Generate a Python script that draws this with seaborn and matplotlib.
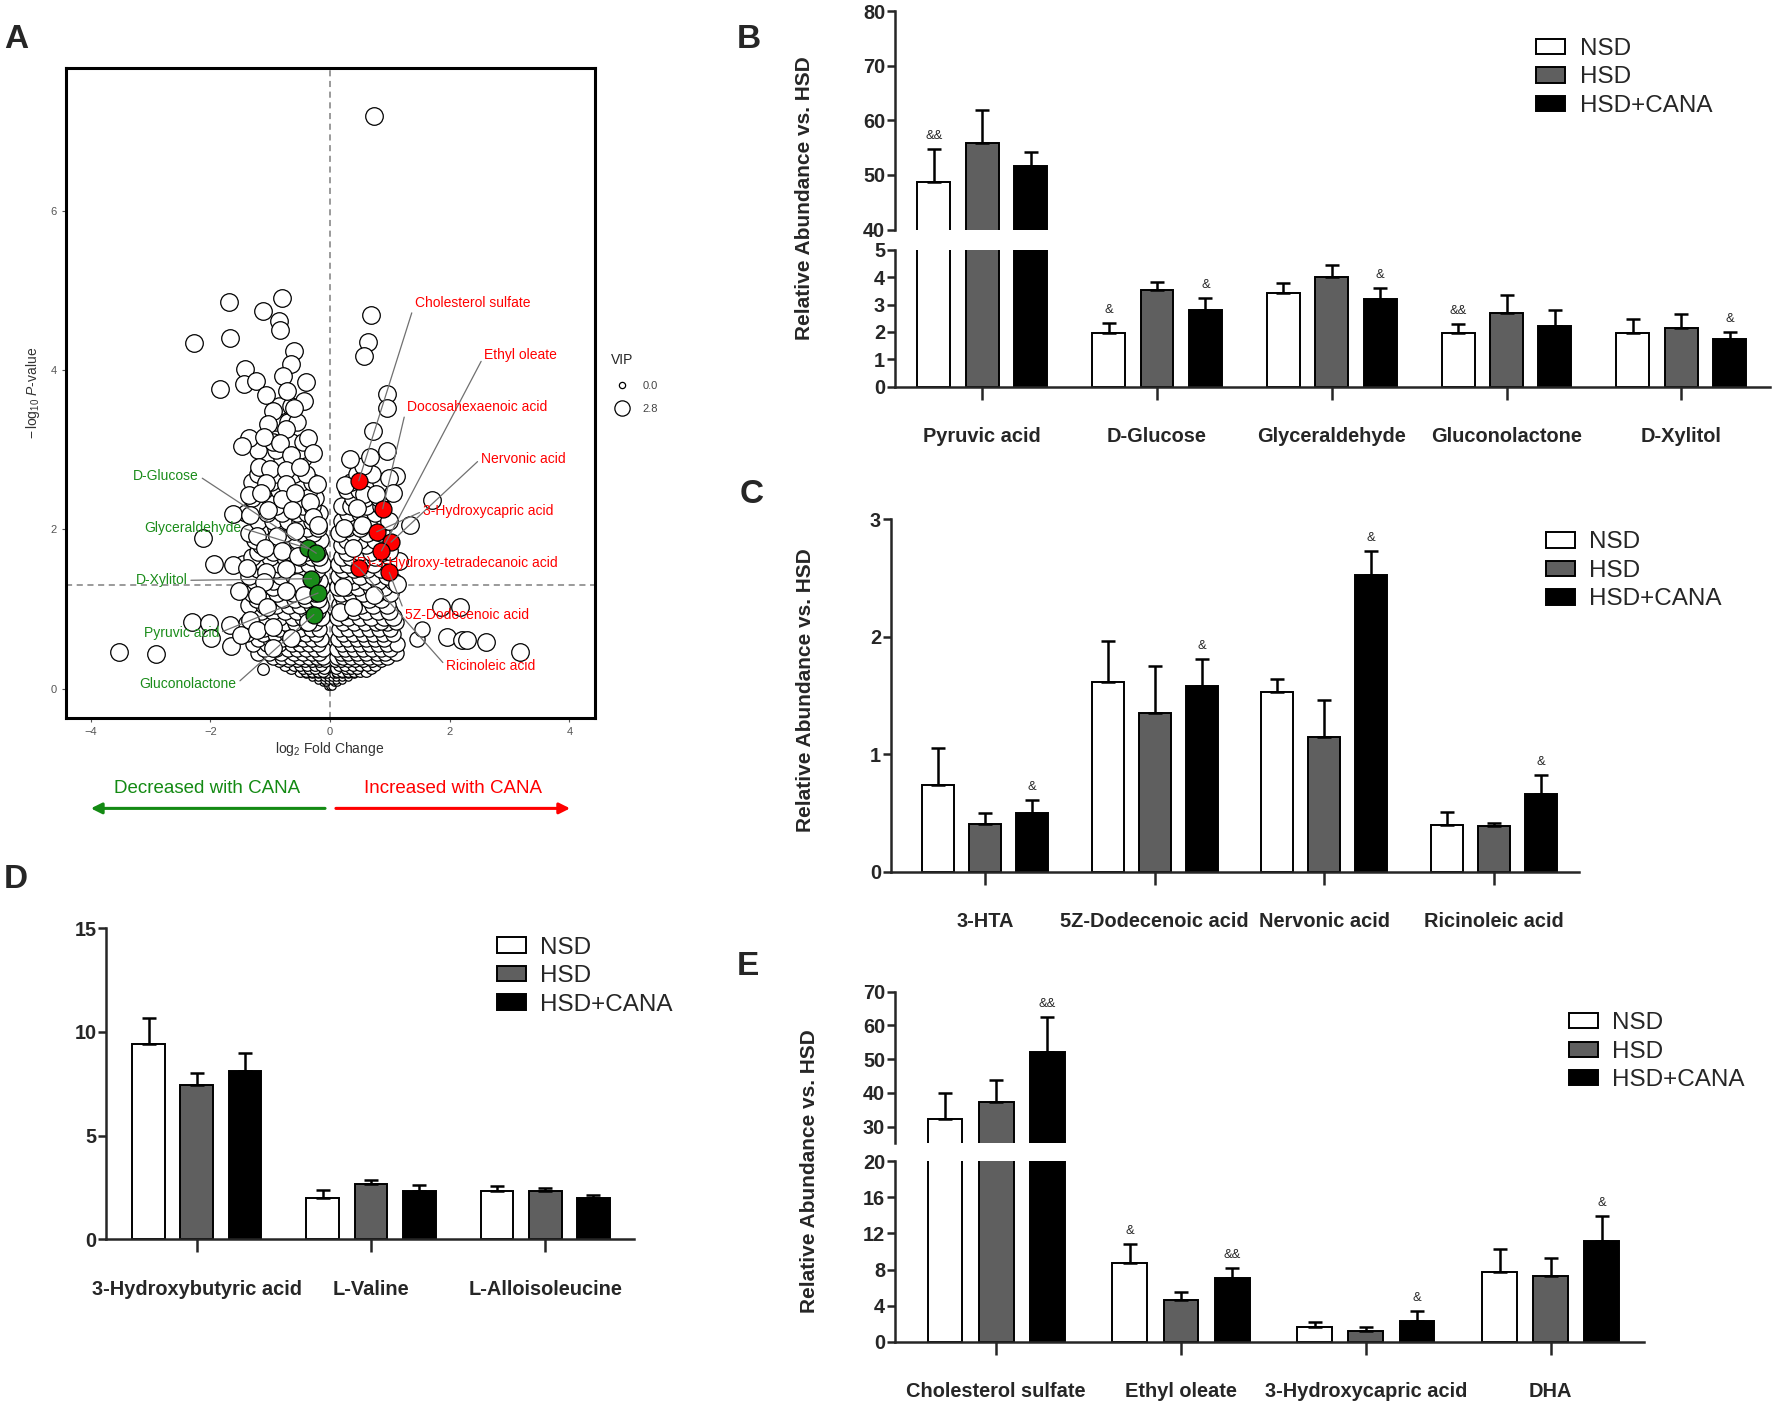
import numpy as np
import pandas as pd
import matplotlib
matplotlib.use("Agg")
import matplotlib.pyplot as plt
import seaborn as sns
from matplotlib import font_manager
from matplotlib.patches import Patch
from matplotlib.lines import Line2D

# ── Groups / colours ──────────────────────────────────────────────────────────
GROUPS  = ["NSD", "HSD", "HSD+CANA"]
PALETTE = {"NSD": "white", "HSD": "#5f5f5f", "HSD+CANA": "black"}
RED     = "#ff0000"
GREEN   = "#1a8c1a"

# ── Panel A: volcano points (log2 FC, -log10 P) ──────────────────────────────
VOLC_BIG = [
    (-1.69, 4.86), (-0.81, 4.91), (-1.12, 4.75), (-0.85, 4.62), (-0.84, 4.51),
    (-2.27, 4.34), (-1.68, 4.40), (-0.60, 4.24), (-0.66, 4.08), (-1.42, 4.02),
    (-0.79, 3.93), (-0.40, 3.85), (-1.84, 3.77), (-1.44, 3.83), (-1.24, 3.87),
    (-1.07, 3.69), (-0.72, 3.74), (-0.44, 3.61), (-0.60, 3.52), (-0.95, 3.49),
    (-1.04, 3.33), (-0.74, 3.26), (-0.37, 3.15), (-1.35, 3.15), (-1.11, 3.16),
    (-1.47, 3.05), (-0.83, 3.08), (-0.66, 2.94), (-0.29, 2.96), (-1.18, 2.78),
    (-1.00, 2.76), (-0.74, 2.75), (-0.50, 2.78), (-1.07, 2.58), (-0.74, 2.57),
    (-0.22, 2.57), (-1.36, 2.43), (-1.15, 2.46), (-0.81, 2.38), (-0.59, 2.46),
    (-0.33, 2.34), (-1.62, 2.19), (-1.33, 2.18), (-1.04, 2.24), (-0.63, 2.24),
    (-0.29, 2.16), (-0.20, 2.05), (-2.13, 1.89), (-1.22, 1.92), (-0.89, 1.92),
    (-0.59, 1.98), (-1.94, 1.57), (-1.63, 1.55), (-1.39, 1.52), (-1.09, 1.76),
    (-0.80, 1.73), (-0.53, 1.66), (-1.07, 1.47), (-0.74, 1.50), (-0.55, 1.34),
    (-1.11, 1.34), (-1.52, 1.22), (-1.22, 1.18), (-0.74, 1.22), (-0.44, 1.18),
    (-2.30, 0.84), (-2.03, 0.82), (-1.99, 0.64), (-1.67, 0.80), (-1.65, 0.54),
    (-1.48, 0.67), (-1.33, 0.86), (-1.05, 1.02), (-1.22, 0.73), (-0.95, 0.77),
    (-3.52, 0.46), (-2.91, 0.44), (-0.96, 0.51), (-0.66, 0.64), (-0.36, 0.83),
    (0.74, 7.20), (0.68, 4.69), (0.64, 4.36), (0.57, 4.18), (0.95, 3.70),
    (0.96, 3.52), (0.72, 3.24), (0.95, 2.99), (0.33, 2.88), (0.66, 2.91),
    (1.11, 2.67), (0.98, 2.64), (0.25, 2.56), (0.57, 2.44), (1.05, 2.46),
    (0.77, 2.44), (1.71, 2.37), (0.45, 2.27), (1.33, 2.06), (0.23, 2.02),
    (0.54, 2.05), (0.98, 2.11), (1.15, 1.60), (0.38, 1.76), (0.98, 1.73),
    (0.22, 1.27), (0.74, 1.18), (1.12, 1.31), (1.85, 1.02), (2.17, 1.02),
    (1.96, 0.65), (2.21, 0.61), (2.29, 0.61), (2.60, 0.58), (3.18, 0.46),
    (0.16, 0.96), (0.38, 1.02),
]
# dense cloud, one row per -log10 P level: (y, [x values])
VOLC_ROWS_BIG = [
    (0.90, [-1.25, -1.05, -0.85, -0.62, -0.45, -0.30, -0.15, 0.14, 0.30, 0.50, 0.68, 0.90, 1.05]),
    (0.97, [-1.15, -0.95, -0.75, -0.55, -0.38, -0.22, 0.22, 0.40, 0.60, 0.80, 0.98]),
    (1.05, [-1.35, -1.10, -0.90, -0.68, -0.50, -0.30, -0.16, 0.16, 0.32, 0.52, 0.72, 0.95]),
    (1.12, [-1.22, -1.00, -0.78, -0.58, -0.40, -0.20, 0.24, 0.44, 0.65, 0.86]),
    (1.20, [-1.30, -1.05, -0.88, -0.62, -0.42, -0.25, 0.18, 0.35, 0.55, 0.78, 1.00]),
    (1.27, [-1.15, -0.96, -0.75, -0.52, -0.33, -0.15, 0.14, 0.28, 0.47, 0.68, 0.90]),
    (1.35, [-1.25, -0.95, -0.70, -0.50, -0.35, -0.18, 0.20, 0.38, 0.60, 0.80, 1.05]),
    (1.42, [-1.35, -1.05, -0.82, -0.60, -0.40, -0.28, 0.15, 0.30, 0.50, 0.72, 0.95]),
    (1.50, [-1.20, -0.90, -0.62, -0.45, -0.22, 0.22, 0.40, 0.62, 0.85]),
    (1.57, [-1.45, -1.10, -0.85, -0.55, -0.35, -0.14, 0.15, 0.30, 0.52, 0.72]),
    (1.65, [-1.30, -1.00, -0.75, -0.50, -0.30, -0.18, 0.20, 0.35, 0.60, 0.75, 1.00]),
    (1.72, [-1.20, -0.95, -0.65, -0.40, -0.22, 0.28, 0.50, 0.68, 0.88]),
    (1.80, [-1.15, -0.88, -0.62, -0.45, -0.25, 0.20, 0.40, 0.60, 0.95]),
    (1.87, [-1.25, -0.95, -0.72, -0.55, -0.35, -0.16, 0.28, 0.50, 0.75]),
    (1.95, [-1.35, -1.05, -0.75, -0.45, -0.28, 0.15, 0.38, 0.62, 0.85]),
    (2.02, [-1.15, -0.90, -0.60, -0.38, -0.20, 0.28, 0.50, 0.78]),
    (2.10, [-1.20, -0.95, -0.70, -0.50, -0.30, 0.20, 0.42, 0.70, 0.92]),
    (2.20, [-1.40, -1.05, -0.80, -0.55, -0.38, -0.18, 0.30, 0.50, 0.75]),
    (2.30, [-1.25, -0.90, -0.65, -0.45, -0.30, 0.20, 0.35, 0.60, 0.85]),
    (2.40, [-1.30, -1.00, -0.72, -0.50, -0.25, 0.38, 0.58, 0.82]),
    (2.50, [-1.10, -0.85, -0.55, -0.35, 0.28, 0.48, 0.70, 0.95]),
    (2.60, [-1.30, -0.98, -0.68, -0.48, -0.30, 0.35, 0.60, 0.85]),
    (2.70, [-1.20, -0.90, -0.60, -0.40, 0.45, 0.70]),
    (2.80, [-1.10, -0.70, -0.50, 0.55]),
    (2.90, [-1.00, -0.80, -0.55, -0.45]),
    (3.00, [-1.20, -0.90, -0.60, -0.50]),
    (3.10, [-0.95, -0.65, -0.45]),
    (3.35, [-0.90, -0.70, -0.55]),
    (3.55, [-0.85, -0.65]),
]
VOLC_ROWS_MED = [
    (0.40, [-0.95, -0.80, -0.65, -0.50, -0.35, -0.22, -0.12, 0.12, 0.22, 0.35, 0.50, 0.65, 0.80, 0.95]),
    (0.45, [-1.20, -1.02, -0.82, -0.60, -0.45, -0.30, -0.18, 0.18, 0.30, 0.45, 0.60, 0.78, 0.92, 1.10]),
    (0.50, [-1.10, -0.90, -0.70, -0.55, -0.40, -0.25, -0.12, 0.12, 0.25, 0.40, 0.55, 0.70, 0.85, 1.00]),
    (0.56, [-1.28, -1.05, -0.85, -0.64, -0.50, -0.35, -0.20, 0.20, 0.35, 0.50, 0.65, 0.80, 0.95, 1.12]),
    (0.62, [-1.20, -1.00, -0.80, -0.60, -0.45, -0.30, -0.15, 0.13, 0.28, 0.45, 0.60, 0.75, 0.90, 1.46]),
    (0.68, [-1.38, -1.12, -0.92, -0.72, -0.55, -0.40, -0.24, 0.22, 0.38, 0.55, 0.72, 0.88, 1.05]),
    (0.75, [-1.30, -1.10, -0.85, -0.65, -0.50, -0.32, -0.18, 0.15, 0.30, 0.48, 0.65, 0.82, 1.00, 1.53]),
    (0.82, [-1.40, -1.20, -0.98, -0.75, -0.58, -0.40, -0.25, 0.22, 0.40, 0.58, 0.76, 0.95]),
    (0.84, [0.86, 1.11]),
]
VOLC_ROWS_SMALL = [
    (0.22, [-0.50, -0.40, -0.30, -0.20, -0.12, 0.12, 0.20, 0.30, 0.40, 0.50, 0.60]),
    (0.26, [-0.65, -0.45, -0.35, -0.25, -0.10, 0.10, 0.27, 0.35, 0.45, 0.68]),
    (0.30, [-0.75, -0.60, -0.50, -0.38, -0.25, -0.15, 0.15, 0.25, 0.38, 0.50, 0.62, 0.75]),
    (0.35, [-0.85, -0.70, -0.55, -0.42, -0.30, -0.18, -0.08, 0.08, 0.18, 0.30, 0.42, 0.55, 0.70, 0.85]),
    (0.24, [-1.12]),
    (0.54, [1.04]),
]
VOLC_ROWS_TINY = [
    (0.03, [-0.03, 0.00, 0.03]),
    (0.08, [-0.12, -0.06, 0.06, 0.12]),
    (0.11, [-0.20, -0.10, -0.03, 0.03, 0.10, 0.20]),
    (0.14, [-0.30, -0.20, -0.10, -0.04, 0.04, 0.10, 0.20, 0.30]),
    (0.18, [-0.40, -0.30, -0.20, -0.10, -0.05, 0.05, 0.10, 0.20, 0.30, 0.40]),
]
VOLC_RED   = [(0.48, 2.61), (0.88, 2.26), (0.78, 1.97), (1.02, 1.84),
              (0.86, 1.73), (0.48, 1.52), (0.99, 1.46)]
VOLC_GREEN = [(-0.37, 1.76), (-0.23, 1.70), (-0.31, 1.38), (-0.20, 1.20), (-0.27, 0.93)]

# (name, text x, text y, point x, point y)
RED_LABELS = [
    ("Cholesterol sulfate",              1.42, 4.85, 0.48, 2.61),
    ("Ethyl oleate",                     2.58, 4.19, 0.86, 1.73),
    ("Docosahexaenoic acid",             1.28, 3.54, 0.88, 2.26),
    ("Nervonic acid",                    2.52, 2.89, 1.02, 1.84),
    ("3-Hydroxycapric acid",             1.55, 2.23, 0.78, 1.97),
    ("(R)-3-Hydroxy-tetradecanoic acid", 0.36, 1.58, 0.48, 1.52),
    ("5Z-Dodecenoic acid",               1.26, 0.93, 0.99, 1.46),
    ("Ricinoleic acid",                  1.94, 0.28, 0.48, 1.52),
]
GREEN_LABELS = [
    ("D-Glucose",      -2.19, 2.67, -0.23, 1.70),
    ("Glyceraldehyde", -1.48, 2.02, -0.37, 1.76),
    ("D-Xylitol",      -2.38, 1.36, -0.31, 1.38),
    ("Pyruvic acid",   -1.85, 0.70, -0.20, 1.20),
    ("Gluconolactone", -1.56, 0.06, -0.27, 0.93),
]

# ── Panel B ───────────────────────────────────────────────────────────────────
B_CATS = ["Pyruvic acid", "D-Glucose", "Glyceraldehyde", "Gluconolactone", "D-Xylitol"]
B_MEAN = {"NSD": [48.7, 1.96, 3.41, 1.95, 1.95],
          "HSD": [55.9, 3.55, 4.00, 2.70, 2.14],
          "HSD+CANA": [51.6, 2.80, 3.22, 2.22, 1.75]}
B_SEM  = {"NSD": [6.05, 0.37, 0.37, 0.34, 0.52],
          "HSD": [6.0, 0.27, 0.45, 0.65, 0.51],
          "HSD+CANA": [2.7, 0.43, 0.37, 0.59, 0.26]}
B_SIG  = {"NSD": ["&&", "&", "", "&&", ""],
          "HSD": ["", "", "", "", ""],
          "HSD+CANA": ["", "&", "&", "", "&"]}

# ── Panel C ───────────────────────────────────────────────────────────────────
C_CATS = ["3-HTA", "5Z-Dodecenoic acid", "Nervonic acid", "Ricinoleic acid"]
C_MEAN = {"NSD": [0.74, 1.61, 1.53, 0.40],
          "HSD": [0.41, 1.35, 1.15, 0.385],
          "HSD+CANA": [0.50, 1.58, 2.52, 0.66]}
C_SEM  = {"NSD": [0.31, 0.35, 0.11, 0.11],
          "HSD": [0.09, 0.40, 0.31, 0.03],
          "HSD+CANA": [0.11, 0.23, 0.21, 0.16]}
C_SIG  = {"NSD": ["", "", "", ""],
          "HSD": ["", "", "", ""],
          "HSD+CANA": ["&", "&", "&", "&"]}

# ── Panel D ───────────────────────────────────────────────────────────────────
D_CATS = ["3-Hydroxybutyric acid", "L-Valine", "L-Alloisoleucine"]
D_MEAN = {"NSD": [9.40, 2.01, 2.33],
          "HSD": [7.44, 2.68, 2.32],
          "HSD+CANA": [8.12, 2.33, 2.01]}
D_SEM  = {"NSD": [1.29, 0.37, 0.26],
          "HSD": [0.60, 0.17, 0.14],
          "HSD+CANA": [0.88, 0.27, 0.10]}
D_SIG  = {g: ["", "", ""] for g in GROUPS}

# ── Panel E ───────────────────────────────────────────────────────────────────
E_CATS = ["Cholesterol sulfate", "Ethyl oleate", "3-Hydroxycapric acid", "DHA"]
E_MEAN = {"NSD": [32.2, 8.72, 1.59, 7.69],
          "HSD": [37.2, 4.66, 1.22, 7.32],
          "HSD+CANA": [52.2, 7.06, 2.29, 11.2]}
E_SEM  = {"NSD": [7.7, 2.11, 0.63, 2.59],
          "HSD": [6.5, 0.81, 0.44, 1.92],
          "HSD+CANA": [10.2, 1.11, 1.11, 2.77]}
E_SIG  = {"NSD": ["", "&", "", ""],
          "HSD": ["", "", "", ""],
          "HSD+CANA": ["&&", "&&", "&", "&"]}

# ── Style ─────────────────────────────────────────────────────────────────────
sns.set_style("ticks")
avail = {f.name for f in font_manager.fontManager.ttflist}
NARROW = "Liberation Sans Narrow" if "Liberation Sans Narrow" in avail else "Liberation Sans"
K = 1.0 if NARROW == "Liberation Sans Narrow" else 0.84
plt.rcParams["font.family"] = ["Liberation Sans", "DejaVu Sans"]
plt.rcParams["mathtext.fontset"] = "custom"
plt.rcParams["mathtext.rm"] = "Liberation Sans"
plt.rcParams["mathtext.it"] = "Liberation Sans:italic"

fig = plt.figure(figsize=(17.72, 14.02), dpi=100)


def expand(rows):
    xs, ys = [], []
    for y, row in rows:
        xs += row
        ys += [y] * len(row)
    return xs, ys


# ── Panel A ───────────────────────────────────────────────────────────────────
axA = fig.add_axes([0.037, 0.4879, 0.2985, 0.4637])
layers = [
    (expand(VOLC_ROWS_TINY), 28, "white"),
    (expand(VOLC_ROWS_SMALL), 70, "white"),
    (expand(VOLC_ROWS_MED), 120, "white"),
    (expand(VOLC_ROWS_BIG), 155, "white"),
    (tuple(map(list, zip(*VOLC_BIG))), 160, "white"),
    (tuple(map(list, zip(*VOLC_GREEN))), 150, GREEN),
    (tuple(map(list, zip(*VOLC_RED))), 150, RED),
]
for (xs, ys), s, fc in layers:
    sns.scatterplot(x=xs, y=ys, s=s, color=fc, edgecolor="black",
                    linewidth=0.9, ax=axA, zorder=3)

axA.axhline(1.30, color="#7f7f7f", ls=(0, (4, 3)), lw=1.1, zorder=1)
axA.axvline(0, color="#7f7f7f", ls=(0, (4, 3)), lw=1.1, zorder=1)
axA.set_xlim(-4.42, 4.42)
axA.set_ylim(-0.37, 7.8)
axA.set_xticks([-4, -2, 0, 2, 4])
axA.set_yticks([0, 2, 4, 6])
axA.tick_params(labelsize=8, colors="#555555", length=3, width=0.8)
for sp in axA.spines.values():
    sp.set_linewidth(2.2)
    sp.set_color("black")
axA.set_xlabel(r"log$_2$ Fold Change", fontsize=10, color="#333333", labelpad=2)
axA.set_ylabel(r"$-\,$log$_{10}$ $P$-value", fontsize=10, color="#333333", labelpad=6)

for name, tx, ty, px, py in RED_LABELS:
    axA.annotate(name, xy=(px, py), xytext=(tx, ty), color=RED, fontsize=10,
                 ha="left", va="center", zorder=5,
                 arrowprops=dict(arrowstyle="-", color="#707070", lw=0.9,
                                 shrinkA=0, shrinkB=0, relpos=(0, 0.5)))
for name, tx, ty, px, py in GREEN_LABELS:
    axA.annotate(name, xy=(px, py), xytext=(tx, ty), color=GREEN, fontsize=10,
                 ha="right", va="center", zorder=5,
                 arrowprops=dict(arrowstyle="-", color="#707070", lw=0.9,
                                 shrinkA=0, shrinkB=0, relpos=(1, 0.5)))

vip_handles = [Line2D([], [], ls="", marker="o", mfc="white", mec="black", ms=4.5, mew=0.9),
               Line2D([], [], ls="", marker="o", mfc="white", mec="black", ms=11, mew=0.9)]
leg = axA.legend(vip_handles, ["0.0", "2.8"], title="VIP", loc="upper left",
                 bbox_to_anchor=(0.345, 0.748), bbox_transform=fig.transFigure,
                 frameon=False, fontsize=8, title_fontsize=10, handletextpad=0.8,
                 labelspacing=1.2, alignment="left", borderpad=0, borderaxespad=0)
for t in leg.get_texts():
    t.set_color("#444444")

# direction arrows under the volcano plot
axA.annotate("", xy=(0.0497, 0.4234), xytext=(0.185, 0.4234), xycoords="figure fraction",
             arrowprops=dict(arrowstyle="-|>", color="#138a13", lw=2.2, mutation_scale=16))
axA.annotate("", xy=(0.3233, 0.4234), xytext=(0.188, 0.4234), xycoords="figure fraction",
             arrowprops=dict(arrowstyle="-|>", color=RED, lw=2.2, mutation_scale=16))
fig.text(0.117, 0.4379, "Decreased with CANA", color="#138a13", fontsize=13.5,
         ha="center", va="center")
fig.text(0.2555, 0.4379, "Increased with CANA", color=RED, fontsize=13.5,
         ha="center", va="center")


# ── Bar panels ────────────────────────────────────────────────────────────────
def bars(ax, cats, means, sems, sigs, xlim, ylim, yticks, show_x=True):
    df = pd.DataFrame([{"metabolite": c, "group": g, "value": means[g][i]}
                       for g in GROUPS for i, c in enumerate(cats)])
    sns.barplot(data=df, x="metabolite", y="value", hue="group", order=cats,
                hue_order=GROUPS, palette=PALETTE, edgecolor="black", linewidth=1.4,
                width=0.83, gap=0.32, errorbar=None, legend=False, ax=ax)
    for g, cont in zip(GROUPS, ax.containers):
        xs = [b.get_x() + b.get_width() / 2 for b in cont]
        ax.errorbar(xs, means[g], yerr=[np.zeros(len(cats)), sems[g]], fmt="none",
                    ecolor="black", elinewidth=1.8, capsize=5, capthick=1.8, zorder=4)
        for x, m, s, lab in zip(xs, means[g], sems[g], sigs[g]):
            if lab:
                ax.annotate(lab, (x, m + s), xytext=(0, 5), textcoords="offset points",
                            ha="center", va="bottom", fontsize=11 * K, family=NARROW)
    ax.set_xlim(*xlim)
    ax.set_ylim(*ylim)
    ax.set_xlabel("")
    ax.set_ylabel("")
    sns.despine(ax=ax)
    ax.spines["left"].set_linewidth(1.8)
    ax.spines["bottom"].set_linewidth(1.8)
    ax.set_yticks(yticks, labels=[str(v) for v in yticks], fontsize=17 * K,
                  fontweight="bold", family=NARROW)
    ax.tick_params(axis="y", length=6, width=1.8, pad=1)
    if show_x:
        ax.set_xticks(range(len(cats)), labels=cats, fontsize=17.2 * K,
                      fontweight="bold", family=NARROW)
        ax.tick_params(axis="x", length=9, width=1.8, pad=20)
    else:
        ax.spines["bottom"].set_visible(False)
        ax.set_xticks([])


def legend(ax, x, y):
    handles = [Patch(facecolor=PALETTE[g], edgecolor="black", lw=1.4) for g in GROUPS]
    ax.legend(handles, GROUPS, loc="upper left", bbox_to_anchor=(x, y),
              bbox_transform=fig.transFigure, frameon=False, borderpad=0,
              borderaxespad=0, prop={"family": NARROW, "size": 20.8 * K},
              handlelength=1.2, handleheight=0.6, handletextpad=0.58,
              labelspacing=0.27)


def ylabel(x, y):
    fig.text(x, y, "Relative Abundance vs. HSD", rotation=90, fontsize=15,
             fontweight="bold", ha="center", va="center")


# B (broken axis 0-5 / 40-80)
axB_hi = fig.add_axes([0.505, 0.8363, 0.4937, 0.1556])
axB_lo = fig.add_axes([0.505, 0.7242, 0.4937, 0.0976])
bars(axB_hi, B_CATS, B_MEAN, B_SEM, B_SIG, (-0.50, 4.506), (40, 80), [40, 50, 60, 70, 80], False)
bars(axB_lo, B_CATS, B_MEAN, B_SEM, B_SIG, (-0.50, 4.506), (0, 5), [0, 1, 2, 3, 4, 5])
legend(axB_hi, 0.867, 0.973)
ylabel(0.454, 0.859)

# C
axC = fig.add_axes([0.5026, 0.3782, 0.3884, 0.2516])
bars(axC, C_CATS, C_MEAN, C_SEM, C_SIG, (-0.556, 3.50), (0, 3), [0, 1, 2, 3])
legend(axC, 0.8724, 0.621)
ylabel(0.4547, 0.508)

# D
axD = fig.add_axes([0.0599, 0.1161, 0.2979, 0.2218])
bars(axD, D_CATS, D_MEAN, D_SEM, D_SIG, (-0.52, 2.51), (0, 15), [0, 5, 10, 15])
legend(axD, 0.2806, 0.332)

# E (broken axis 0-20 / 25-70)
axE_hi = fig.add_axes([0.505, 0.185, 0.423, 0.1077])
axE_lo = fig.add_axes([0.505, 0.0429, 0.423, 0.1289])
bars(axE_hi, E_CATS, E_MEAN, E_SEM, E_SIG, (-0.548, 3.507), (25.3, 70), [30, 40, 50, 60, 70], False)
bars(axE_lo, E_CATS, E_MEAN, E_SEM, E_SIG, (-0.548, 3.507), (0, 20), [0, 4, 8, 12, 16, 20])
legend(axE_hi, 0.8852, 0.278)
ylabel(0.4566, 0.165)

# panel letters
for letter, x, y in [("A", 0.009, 0.972), ("B", 0.4228, 0.972), ("C", 0.424, 0.6476),
                     ("D", 0.009, 0.3726), ("E", 0.422, 0.3105)]:
    fig.text(x, y, letter, fontsize=24, fontweight="bold", ha="center", va="center")

fig.savefig("out.png", dpi=100)
